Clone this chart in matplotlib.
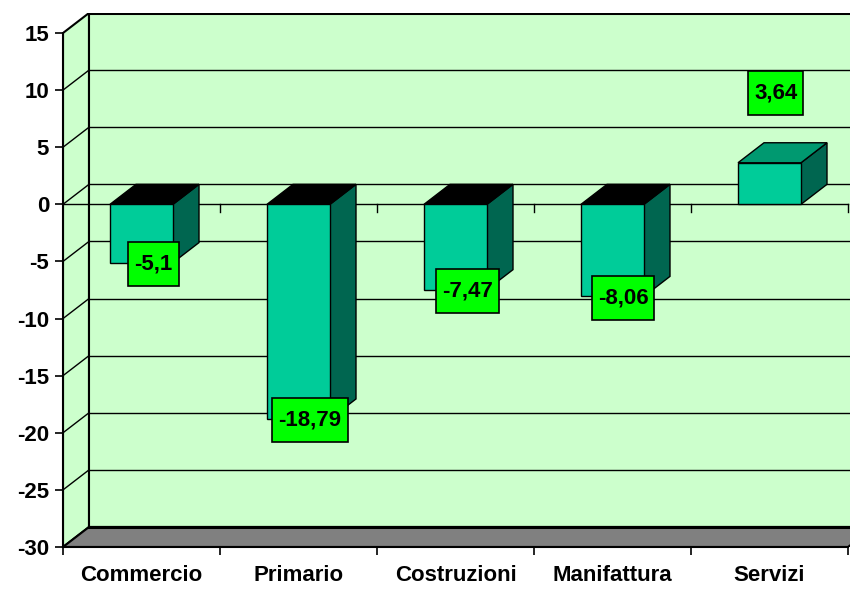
import matplotlib
matplotlib.use("Agg")
import matplotlib.pyplot as plt
from matplotlib.patches import Polygon, Rectangle
from matplotlib.transforms import IdentityTransform
import numpy as np

categories = ["Commercio", "Primario", "Costruzioni", "Manifattura", "Servizi"]
values = [-5.1, -18.79, -7.47, -8.06, 3.64]
value_labels = ["-5,1", "-18,79", "-7,47", "-8,06", "3,64"]
y_ticks = [-30, -25, -20, -15, -10, -5, 0, 5, 10, 15]

# label placement tweaks (data units)
label_dx = [0.076, 0.073, 0.076, 0.067, 0.04]
label_dy = [-0.15, -0.1, -0.1, -0.1, 6.1]

plt.rcParams['font.family'] = ['Liberation Sans', 'DejaVu Sans']
FS = 16

W, H = 850, 590
fig = plt.figure(figsize=(W / 100, H / 100), dpi=100)
fig.patch.set_facecolor("white")

ax = fig.add_axes([63 / W, 1 - 547 / H, (W - 63) / W, (547 - 13) / H])
ymin, ymax = -30, 15
px_per_y = (547 - 33) / 45.0
px_per_x = 157.0
ax.set_xlim(-0.5, -0.5 + (W - 63) / px_per_x)
ax.set_ylim(-30, -30 + (547 - 13) / px_per_y)
ax.patch.set_alpha(0)

ddx = 26 / px_per_x
ddy = 20 / px_per_y
n = len(categories)
x0, x1 = -0.5, n - 0.5

wall = "#CCFFCC"
ax.add_patch(Polygon([(x0, ymin), (x0, ymax), (x0 + ddx, ymax + ddy), (x0 + ddx, ymin + ddy)],
                     closed=True, facecolor=wall, edgecolor="black", lw=1.5, zorder=1))
ax.add_patch(Polygon([(x0 + ddx, ymin + ddy), (x0 + ddx, ymax + ddy), (x1 + ddx, ymax + ddy), (x1 + ddx, ymin + ddy)],
                     closed=True, facecolor=wall, edgecolor="black", lw=1.5, zorder=1))
ax.plot([x0 + ddx, x1 + ddx], [ymax + ddy, ymax + ddy], color="black", lw=2.2, zorder=1.2)
ax.add_patch(Polygon([(x0, ymin), (x1, ymin), (x1 + ddx, ymin + ddy), (x0 + ddx, ymin + ddy)],
                     closed=True, facecolor="#808080", edgecolor="black", lw=1.5, zorder=1.1))
ax.plot([x0 + ddx, x1 + ddx], [ymin + ddy, ymin + ddy], color="black", lw=2.2, zorder=1.2)

for v in y_ticks[1:-1]:
    ax.plot([x0 + ddx, x1 + ddx], [v + ddy, v + ddy], color="black", lw=1.0, zorder=1.3)
    ax.plot([x0, x0 + ddx], [v, v + ddy], color="black", lw=1.0, zorder=1.3)

ax.plot([x0, x1], [0, 0], color="black", lw=1.0, zorder=1.4)
for b in np.arange(x0 + 1, x1 + 0.01, 1.0):
    ax.plot([b, b], [0, -0.7], color="black", lw=1.0, zorder=1.4)

w = 63 / px_per_x
front_c = "#00CC99"
side_c = "#006650"
top_pos = "#009970"
for i, v in enumerate(values):
    l, r = i - w / 2, i + w / 2
    top = max(v, 0)
    tc = top_pos if v > 0 else "black"
    ax.add_patch(Polygon([(r, 0), (r, v), (r + ddx, v + ddy), (r + ddx, ddy)],
                         closed=True, facecolor=side_c, edgecolor="black", lw=1.0, zorder=2))
    ax.add_patch(Polygon([(l, top), (r, top), (r + ddx, top + ddy), (l + ddx, top + ddy)],
                         closed=True, facecolor=tc, edgecolor="black", lw=1.0, zorder=2))
    ax.add_patch(Polygon([(l, 0), (r, 0), (r, v), (l, v)],
                         closed=True, facecolor=front_c, edgecolor="black", lw=1.0, zorder=2.1))

texts = []
for i, (v, s) in enumerate(zip(values, value_labels)):
    t = ax.text(i + label_dx[i], v + label_dy[i], s, ha="center", va="center",
                fontsize=FS, fontweight="bold", color="black", zorder=5)
    texts.append(t)

for sp in ["top", "right"]:
    ax.spines[sp].set_visible(False)
ax.spines["left"].set_bounds(ymin, ymax)
ax.spines["left"].set_linewidth(1.5)
ax.spines["bottom"].set_bounds(x0, x1)
ax.spines["bottom"].set_linewidth(1.5)
ax.spines["left"].set_zorder(3)
ax.spines["bottom"].set_zorder(3)

ax.set_yticks(y_ticks)
ax.set_yticklabels([str(t) for t in y_ticks], fontsize=FS, fontweight="bold")
ax.tick_params(axis="y", direction="out", length=6, width=1.2, pad=4)

ax.set_xticks(range(n))
ax.set_xticklabels(categories, fontsize=FS, fontweight="bold")
ax.set_xticks(np.arange(x0, x1 + 0.01, 1.0), minor=True)
ax.tick_params(axis="x", which="major", length=0, pad=13)
ax.tick_params(axis="x", which="minor", direction="out", length=6, width=1.2)

# label boxes: fixed height, padded width
fig.canvas.draw()
renderer = fig.canvas.get_renderer()
for t in texts:
    bb = t.get_window_extent(renderer)
    cx, cy = (bb.x0 + bb.x1) / 2, (bb.y0 + bb.y1) / 2
    bw, bh = bb.width + 12, 44
    rect = Rectangle((cx - bw / 2, cy - bh / 2), bw, bh, transform=IdentityTransform(),
                     facecolor="#00FF00", edgecolor="black", lw=1.2, zorder=4.5)
    ax.add_artist(rect)

fig.savefig("out.png", dpi=100)
